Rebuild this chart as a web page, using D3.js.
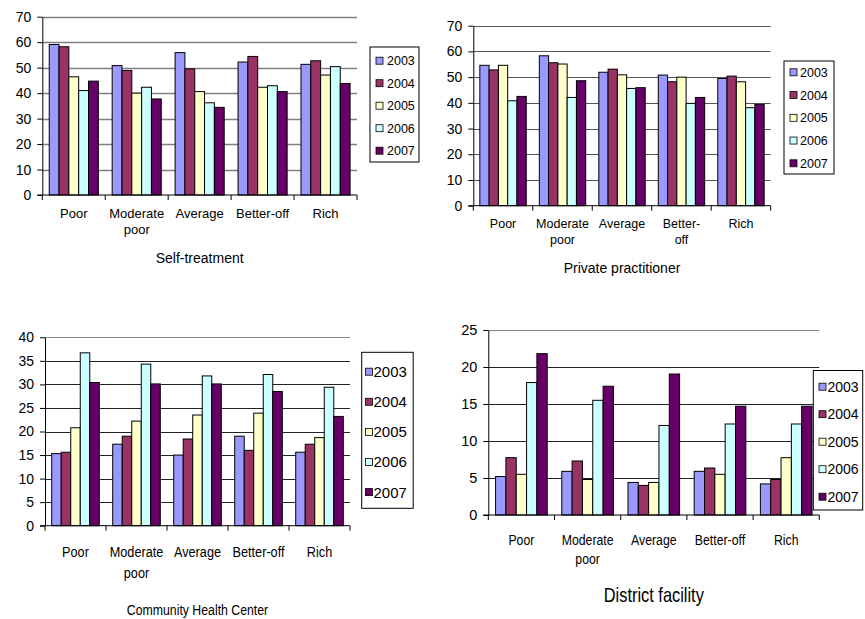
<!DOCTYPE html>
<html><head><meta charset="utf-8">
<script src="https://cdn.jsdelivr.net/npm/d3@7/dist/d3.min.js"></script>
<style>body{margin:0;background:#fff}svg{display:block}</style>
</head><body>
<svg id="chart" width="865" height="619"></svg>
<script>
// ---------- DATA ----------
const categories = ["Poor", "Moderate poor", "Average", "Better-off", "Rich"];
const years = ["2003", "2004", "2005", "2006", "2007"];
const yearColors = ["#9999FF", "#993366", "#FFFFCC", "#CCFFFF", "#660066"];

// one row per category, values for 2003..2007
const selfTreatment = [
  [59.1, 58.2, 46.4, 41.0, 44.7],
  [50.8, 48.9, 40.0, 42.3, 37.7],
  [55.9, 49.5, 40.6, 36.2, 34.4],
  [52.2, 54.4, 42.3, 42.9, 40.6],
  [51.3, 52.7, 47.1, 50.4, 43.8]
];
const privatePractitioner = [
  [54.6, 52.8, 54.6, 40.8, 42.5],
  [58.3, 55.6, 55.1, 42.1, 48.6],
  [51.9, 53.1, 50.9, 45.6, 45.9],
  [50.8, 48.2, 50.0, 39.8, 42.1],
  [49.5, 50.4, 48.2, 38.1, 39.4]
];
const communityHealthCenter = [
  [15.3, 15.6, 20.8, 36.7, 30.4],
  [17.3, 19.0, 22.2, 34.3, 30.1],
  [15.0, 18.4, 23.5, 31.8, 30.1],
  [19.0, 16.0, 23.9, 32.1, 28.5],
  [15.6, 17.3, 18.7, 29.4, 23.2]
];
const districtFacility = [
  [5.2, 7.75, 5.5, 17.9, 21.8],
  [5.9, 7.3, 4.8, 15.5, 17.4],
  [4.4, 4.0, 4.4, 12.1, 19.05],
  [5.9, 6.35, 5.5, 12.3, 14.7],
  [4.2, 4.8, 7.75, 12.3, 14.7]
];

const ticksSelf = [0, 10, 20, 30, 40, 50, 60, 70];
const ticksPrivate = [0, 10, 20, 30, 40, 50, 60, 70];
const ticksCHC = [0, 5, 10, 15, 20, 25, 30, 35, 40];
const ticksDistrict = [0, 5, 10, 15, 20, 25];

const labelsSelf = [["Poor"], ["Moderate", "poor"], ["Average"], ["Better-off"], ["Rich"]];
const labelsPrivate = [["Poor"], ["Moderate", "poor"], ["Average"], ["Better-", "off"], ["Rich"]];
const labelsCHC = [["Poor"], ["Moderate", "poor"], ["Average"], ["Better-off"], ["Rich"]];
const labelsDistrict = [["Poor"], ["Moderate", "poor"], ["Average"], ["Better-off"], ["Rich"]];

const titles = ["Self-treatment", "Private practitioner", "Community Health Center", "District facility"];

// ---------- LAYOUT ----------
const FONT = "'Liberation Sans', Arial, sans-serif";

const panels = [
  { title: titles[0], values: selfTreatment, ticks: ticksSelf, labels: labelsSelf,
    x0: 42.3, x1: 357, yTop: 16.7, yBot: 195, squeeze: 1,
    grid: "#808080", gridW: 1.4, tickFs: 14, catFs: 13, catBase: 218, catLH: 16,
    titleFs: 14, titleBase: 263,
    legend: { x: 370, y: 47, w: 49, h: 115, row0: 60.7, step: 22.5, fs: 12.5, sw: 7, swX: 376, txX: 387 } },
  { title: titles[1], values: privatePractitioner, ticks: ticksPrivate, labels: labelsPrivate,
    x0: 473.3, x1: 770.7, yTop: 25.7, yBot: 205.7, squeeze: 1,
    grid: "#555555", gridW: 1.1, tickFs: 14, catFs: 12.5, catBase: 228, catLH: 16,
    titleFs: 14, titleBase: 273,
    legend: { x: 784, y: 61, w: 50, h: 113, row0: 72.3, step: 22.75, fs: 12.5, sw: 7, swX: 790, txX: 800 } },
  { title: titles[2], values: communityHealthCenter, ticks: ticksCHC, labels: labelsCHC,
    x0: 45, x1: 350, yTop: 337.3, yBot: 525.7, squeeze: 0.82,
    grid: "#222222", gridW: 1, tickFs: 14, catFs: 15.5, catBase: 556.5, catLH: 22,
    titleFs: 15, titleBase: 615,
    legend: { x: 361.7, y: 352.3, w: 51.5, h: 156, row0: 371.7, step: 30.1, fs: 15, sw: 7, swX: 365.5, txX: 373.5 } },
  { title: titles[3], values: districtFacility, ticks: ticksDistrict, labels: labelsDistrict,
    x0: 488.3, x1: 819.3, yTop: 330, yBot: 515, squeeze: 0.82,
    grid: "#222222", gridW: 1, tickFs: 14.5, catFs: 15, catBase: 545, catLH: 19.5,
    titleFs: 20, titleBase: 601.5,
    legend: { x: 813.3, y: 370.5, w: 49.4, h: 139.5, row0: 386.7, step: 27.5, fs: 14, sw: 7, swX: 819, txX: 827.5 } }
];

const svg = d3.select("#chart");

// text placed at (cx, cy), optionally horizontally condensed
function addText(parent, cx, cy, lines, fs, squeeze, lineH) {
  const t = parent.append("text")
    .attr("transform", `translate(${cx},${cy}) scale(${squeeze},1)`)
    .attr("font-family", FONT).attr("font-size", fs)
    .attr("text-anchor", "middle").attr("fill", "#000");
  lines.forEach((line, k) => {
    t.append("tspan").attr("x", 0).attr("y", k * (lineH || 0)).text(line);
  });
  return t;
}

function drawPanel(p) {
  const g = svg.append("g");
  const maxT = d3.max(p.ticks);
  const x = d3.scaleBand().domain(categories).range([p.x0, p.x1]).paddingInner(0.22).paddingOuter(0.11);
  const xs = d3.scaleBand().domain(years).range([0, x.bandwidth()]);
  const y = d3.scaleLinear().domain([0, maxT]).range([p.yBot, p.yTop]);

  // gridlines
  g.append("g").selectAll("line").data(p.ticks.filter(t => t > 0)).join("line")
    .attr("x1", p.x0).attr("x2", p.x1)
    .attr("y1", d => Math.round(y(d)) + 0.5).attr("y2", d => Math.round(y(d)) + 0.5)
    .attr("stroke", d => (d === maxT && p.squeeze < 1) ? "#888" : p.grid)
    .attr("stroke-width", p.gridW);

  // bars
  const groups = g.append("g").selectAll("g").data(categories).join("g")
    .attr("transform", c => `translate(${x(c)},0)`);
  groups.selectAll("rect").data((c, i) => years.map((yr, j) => ({ yr, j, v: p.values[i][j] })))
    .join("rect")
    .attr("x", d => xs(d.yr)).attr("width", xs.bandwidth())
    .attr("y", d => y(d.v)).attr("height", d => y(0) - y(d.v))
    .attr("fill", d => yearColors[d.j])
    .attr("stroke", "#000").attr("stroke-width", 1);

  // y axis
  const ya = g.append("g").attr("transform", `translate(${p.x0},0)`)
    .call(d3.axisLeft(y).tickValues(p.ticks).tickSize(5).tickSizeOuter(0).tickPadding(6));
  ya.select(".domain").attr("stroke", "#000");
  ya.selectAll(".tick line").attr("stroke", "#000");
  ya.selectAll("text").attr("font-family", FONT).attr("font-size", p.tickFs).attr("fill", "#000");

  // x axis line and category boundary ticks
  const step = x.step();
  const bounds = d3.range(categories.length + 1).map(i => p.x0 + i * step);
  g.append("line").attr("x1", p.x0 - 5).attr("x2", p.x1).attr("y1", y(0)).attr("y2", y(0))
    .attr("stroke", "#000");
  g.append("g").selectAll("line").data(bounds).join("line")
    .attr("x1", d => d).attr("x2", d => d).attr("y1", y(0)).attr("y2", y(0) + 5)
    .attr("stroke", "#000");

  // category labels
  const cg = g.append("g");
  categories.forEach((c, i) => {
    addText(cg, x(c) + x.bandwidth() / 2, p.catBase, p.labels[i], p.catFs, p.squeeze, p.catLH);
  });

  // title
  addText(g, (p.x0 + p.x1) / 2, p.titleBase, [p.title], p.titleFs, p.squeeze, 0);

  // legend
  const L = p.legend;
  const lg = g.append("g");
  lg.append("rect").attr("x", L.x).attr("y", L.y).attr("width", L.w).attr("height", L.h)
    .attr("fill", "#fff").attr("stroke", "#000").attr("stroke-width", 1);
  const rows = lg.selectAll("g").data(years).join("g")
    .attr("transform", (d, i) => `translate(0,${L.row0 + i * L.step})`);
  rows.append("rect").attr("x", L.swX).attr("y", -L.sw / 2).attr("width", L.sw).attr("height", L.sw)
    .attr("fill", (d, i) => yearColors[i]).attr("stroke", "#000").attr("stroke-width", 0.8);
  rows.append("text").attr("x", L.txX).attr("y", 0).attr("dy", "0.36em")
    .attr("font-family", FONT).attr("font-size", L.fs).attr("fill", "#000").text(d => d);
}

panels.forEach(drawPanel);
</script>
</body></html>
